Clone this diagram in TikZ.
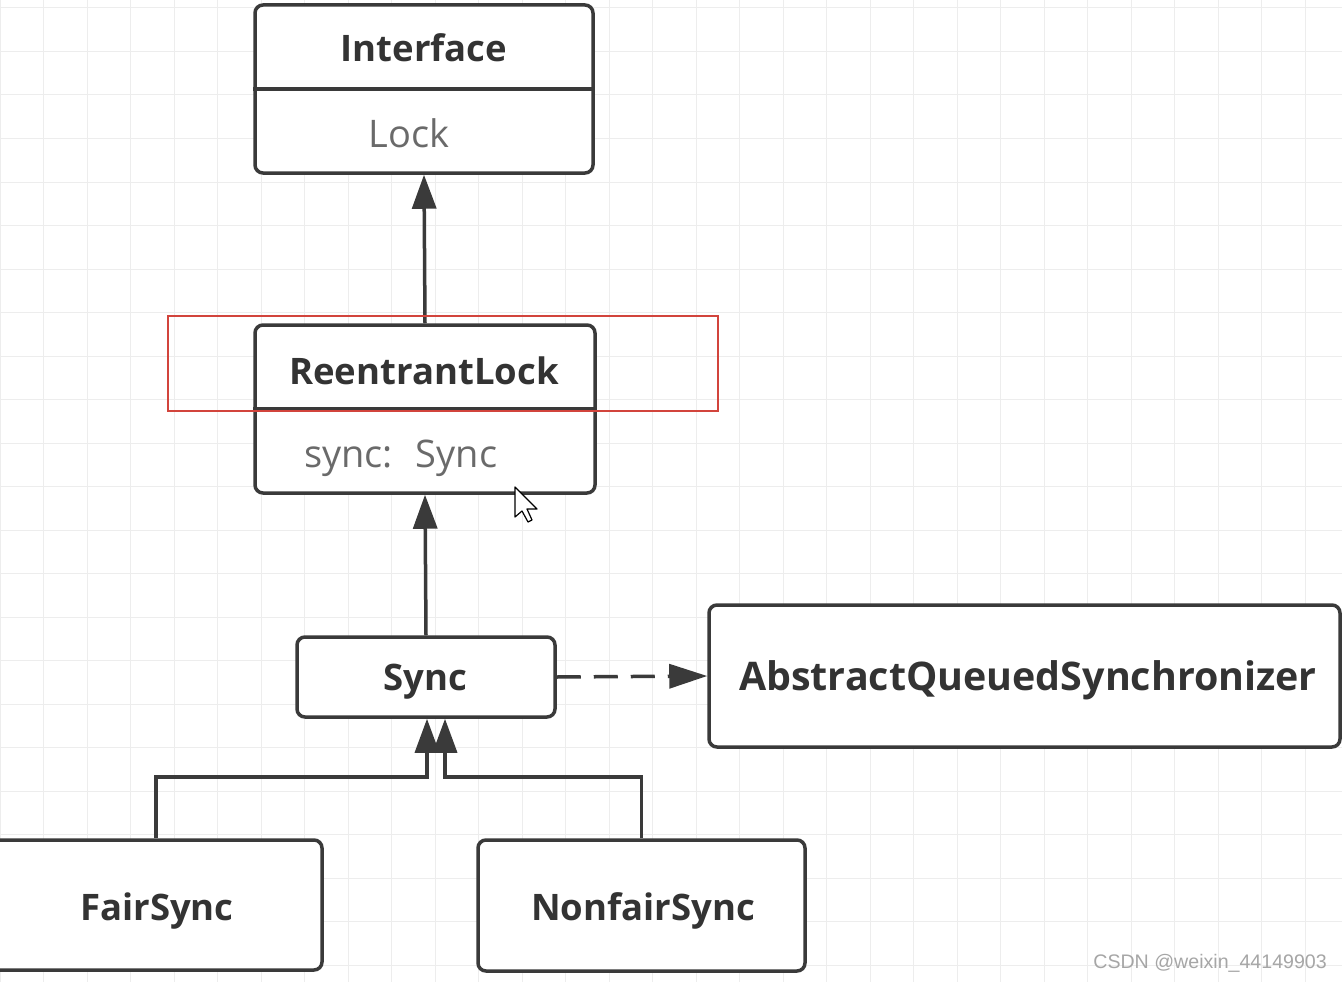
\documentclass[tikz,border=0pt]{standalone}
\usepackage{fontspec}
\setmainfont{Open Sans}
\newfontfamily\wmfont{Liberation Sans}
\usetikzlibrary{arrows.meta}
\definecolor{ln}{HTML}{3A3A3A}
\definecolor{tx}{HTML}{333333}
\definecolor{gtx}{HTML}{6A6A6A}
\definecolor{gridc}{HTML}{EDEDED}
\definecolor{redc}{HTML}{D2443C}
\tikzset{
  box/.style={draw=ln, line width=3.5pt, rounded corners=8pt, fill=white, inner sep=0pt},
  divider/.style={draw=ln, line width=3.5pt},
  title/.style={font=\fontsize{36.5}{44}\selectfont\bfseries, text=tx, inner sep=0pt},
  member/.style={font=\fontsize{38}{46}\selectfont, text=gtx, inner sep=0pt},
  inherit/.style={draw=ln, line width=3.5pt, -{Triangle[length=34pt,width=24pt]}},
  depend/.style={draw=ln, line width=3.5pt, dash pattern=on 24pt off 13pt, -{Triangle[length=38pt,width=24pt]}},
  gridline/.style={draw=gridc, line width=1pt},
}
\begin{document}
\begin{tikzpicture}[x=1pt,y=-1pt]
\useasboundingbox (0,0) rectangle (1342,982);
\fill[white] (0,0) rectangle (1342,982);
\begin{scope}
\clip (0,0) rectangle (1342,982);
\foreach \i in {0,...,31} \draw[gridline] ({43.5*\i},0) -- ({43.5*\i},982);
\foreach \j in {0,...,22} \draw[gridline] (0,{8+43.5*\j}) -- (1342,{8+43.5*\j});

% boxes
\node[box, minimum width=338pt, minimum height=168pt] (iface) at (424,89) {};
\draw[divider] (iface.west) -- (iface.east);
\node[title] (ifacet) at (424,48) {Interface};
\node[member] (lockt) at (409,133) {Lock};

\node[box, minimum width=340pt, minimum height=168pt] (rl) at (425,409) {};
\draw[divider] (rl.west) -- (rl.east);
\node[title] (rlt) at (424,371) {ReentrantLock};
\node[member, anchor=west] (syncm) at (304,458) {sync:\hspace{0.6em}Sync};

\node[box, minimum width=258pt, minimum height=80pt] (sync) at (426,677) {};
\node[title] (synct) at (425,682) {Sync};

\node[box, minimum width=631pt, minimum height=142pt] (aqs) at (1024.5,676) {};
\node[title, font=\fontsize{39.4}{47}\selectfont\bfseries] (aqst) at (1028,680) {AbstractQueuedSynchronizer};

\node[box, minimum width=332pt, minimum height=130pt] (fair) at (156,905) {};
\node[title] (fairt) at (157,911) {FairSync};

\node[box, minimum width=327pt, minimum height=131pt] (nonfair) at (641.5,905.5) {};
\node[title] (nonfairt) at (643,911) {NonfairSync};

% connectors
\draw[inherit] (rl.north) -- (iface.south);
\draw[inherit] (sync.north) -- (rl.south);
\coordinate (jf) at (427,777);
\coordinate (jn) at (445,777);
\draw[inherit] (fair.north) |- (jf) -- (jf |- sync.south);
\draw[inherit] (nonfair.north) |- (jn) -- (jn |- sync.south);
\draw[depend] (sync.east) -- (aqs.west);

% highlight
\draw[redc, line width=2.4pt] (168,316) rectangle (718,411);

% mouse cursor
\draw[black, fill=white, line width=1.2pt, line join=round]
  (515,487) -- ++(0,30) -- ++(7,-6) -- ++(6,11) -- ++(4,-2) -- ++(-5,-11) -- ++(10,0) -- cycle;

% watermark
\node[anchor=east, inner sep=0pt, text=gray!70, font=\wmfont\fontsize{19.6}{22}\selectfont] (wm) at (1327,963) {CSDN @weixin\_44149903};
\end{scope}
\end{tikzpicture}
\end{document}
